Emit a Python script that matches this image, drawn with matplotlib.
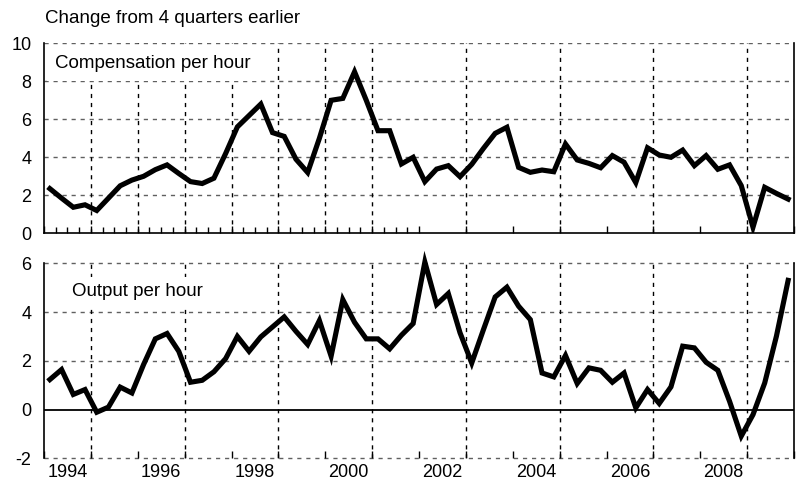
import numpy as np
import matplotlib
matplotlib.use("Agg")
import matplotlib.pyplot as plt
from matplotlib.ticker import FixedLocator

plt.rcParams["font.family"] = ["Liberation Sans", "DejaVu Sans"]
plt.rcParams["axes.unicode_minus"] = False

# quarterly, 1994Q1 .. 2009Q4, percent change from 4 quarters earlier
start_year = 1994
compensation = [
    2.35, 1.85, 1.37, 1.50, 1.20, 1.85, 2.50, 2.80,   # 1994-95
    3.00, 3.35, 3.60, 3.15, 2.72, 2.62, 2.90, 4.20,   # 1996-97
    5.60, 6.20, 6.80, 5.30, 5.10, 3.90, 3.20, 5.00,   # 1998-99
    7.00, 7.10, 8.50, 7.00, 5.40, 5.40, 3.65, 4.00,   # 2000-01
    2.72, 3.38, 3.56, 2.98, 3.63, 4.47, 5.26, 5.58,   # 2002-03
    3.47, 3.21, 3.33, 3.24, 4.70, 3.86, 3.68, 3.45,   # 2004-05
    4.09, 3.74, 2.67, 4.50, 4.12, 4.00, 4.38, 3.56,   # 2006-07
    4.09, 3.37, 3.60, 2.51, 0.32, 2.42, 2.10, 1.80,   # 2008-09
]
output = [
    1.23, 1.64, 0.62, 0.82, -0.11, 0.10, 0.92, 0.68,  # 1994-95
    1.85, 2.90, 3.12, 2.39, 1.12, 1.20, 1.55, 2.09,   # 1996-97
    3.00, 2.39, 2.98, 3.39, 3.80, 3.21, 2.67, 3.65,   # 1998-99
    2.19, 4.51, 3.58, 2.90, 2.90, 2.49, 3.05, 3.53,   # 2000-01
    6.05, 4.31, 4.76, 3.15, 1.91, 3.28, 4.62, 5.02,   # 2002-03
    4.24, 3.69, 1.50, 1.34, 2.22, 1.07, 1.71, 1.61,   # 2004-05
    1.12, 1.50, 0.07, 0.82, 0.25, 0.93, 2.60, 2.53,   # 2006-07
    1.94, 1.61, 0.34, -1.09, -0.21, 1.09, 3.01, 5.30, # 2008-09
]
year_labels = ["1994", "1996", "1998", "2000", "2002", "2004", "2006", "2008"]
top_yticks = [0, 2, 4, 6, 8, 10]
bottom_yticks = [-2, 0, 2, 4, 6]

x = start_year + np.arange(len(compensation)) / 4 + 0.125

W, H = 803, 483
fig = plt.figure(figsize=(W / 100, H / 100), dpi=100)
ax1 = fig.add_axes([44 / W, 1 - 233.3 / H, 750 / W, 190 / H])
ax2 = fig.add_axes([44 / W, 1 - 458.3 / H, 750 / W, 195 / H])

dash = (0, (3, 3.5))
hgrid = "#606060"

for ax in (ax1, ax2):
    ax.set_xlim(1994, 2010)
    ax.spines["top"].set_visible(False)
    for s in ("left", "right", "bottom"):
        ax.spines[s].set_linewidth(1.2)
    ax.tick_params(axis="y", length=0, pad=9, labelsize=13)
    ax.tick_params(axis="x", which="both", direction="in", labelbottom=False)
    ax.tick_params(axis="x", which="major", length=5, width=1)
    ax.tick_params(axis="x", which="minor", length=4, width=1)

# top panel
ax1.set_ylim(0, 10)
ax1.set_yticks(top_yticks)
for v in top_yticks[1:]:
    ax1.axhline(v, color=hgrid, lw=1, ls=dash, zorder=1)
for yr in list(range(1995, 2002)) + [2003, 2005, 2007, 2009]:
    ax1.axvline(yr, color="black", lw=1, ls=dash, zorder=1)
ax1.xaxis.set_major_locator(FixedLocator(range(1994, 2011)))
ax1.xaxis.set_minor_locator(FixedLocator(
    [y + q / 4 for y in range(1994, 2002) for q in (1, 2, 3)]))
ax1.plot(x, compensation, color="black", lw=3.7, solid_joinstyle="miter", zorder=3)
ax1.text(0.0147, 0.868, "Compensation per hour", transform=ax1.transAxes,
         fontsize=13.5, va="baseline", ha="left", zorder=4,
         bbox=dict(boxstyle="square,pad=0.45", fc="white", ec="none"))

# bottom panel
ax2.set_ylim(-2, 6)
ax2.set_yticks(bottom_yticks)
ax2.spines["bottom"].set_visible(False)
for v in (-2, 2, 4, 6):
    ax2.axhline(v, color=hgrid, lw=1, ls=dash, zorder=1, clip_on=False)
ax2.axhline(0, color="black", lw=1.3, zorder=2)
for yr in range(1995, 2010, 2):
    ax2.axvline(yr, color="black", lw=1, ls=dash, zorder=1)
ax2.xaxis.set_major_locator(FixedLocator(range(1994, 2011)))
ax2.plot(x, output, color="black", lw=3.7, solid_joinstyle="miter", zorder=3,
         clip_on=False)
ax2.text(0.038, 0.832, "Output per hour", transform=ax2.transAxes,
         fontsize=13.5, va="baseline", ha="left", zorder=4,
         bbox=dict(boxstyle="square,pad=0.3", fc="white", ec="none"))

label_pos = [int(s) + 0.5 for s in year_labels]
for xp, lab in zip(label_pos, year_labels):
    ax2.text(xp, -2.25, lab, ha="center", va="top", fontsize=13)

fig.text(45 / W, 1 - 23 / H, "Change from 4 quarters earlier", fontsize=13.5,
         ha="left", va="baseline")

fig.savefig("out.png", dpi=100)
